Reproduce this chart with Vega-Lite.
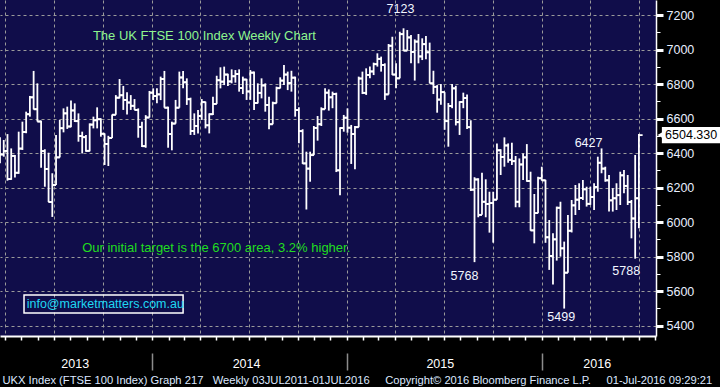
{
"$schema": "https://vega.github.io/schema/vega-lite/v6.json",
"width": 656, "height": 336,
"autosize": {"type": "none"},
"padding": {"left": 0, "top": 0, "right": 64, "bottom": 51},
"background": "#000000",
"config": {"font": "Liberation Sans", "view": {"fill": "#100d4a", "stroke": null}},
"datasets": {"w": [
{"d":"2013-03-22","o":6430,"h":6491,"l":6341,"c":6392},
{"d":"2013-03-29","o":6392,"h":6476,"l":6379,"c":6412},
{"d":"2013-04-05","o":6412,"h":6510,"l":6240,"c":6249},
{"d":"2013-04-12","o":6249,"h":6427,"l":6245,"c":6384},
{"d":"2013-04-19","o":6384,"h":6389,"l":6258,"c":6286},
{"d":"2013-04-26","o":6286,"h":6524,"l":6280,"c":6426},
{"d":"2013-05-03","o":6426,"h":6582,"l":6418,"c":6522},
{"d":"2013-05-10","o":6522,"h":6640,"l":6515,"c":6625},
{"d":"2013-05-17","o":6625,"h":6731,"l":6611,"c":6723},
{"d":"2013-05-24","o":6723,"h":6876,"l":6653,"c":6654},
{"d":"2013-05-31","o":6654,"h":6804,"l":6583,"c":6583},
{"d":"2013-06-07","o":6583,"h":6588,"l":6315,"c":6411},
{"d":"2013-06-14","o":6411,"h":6422,"l":6205,"c":6308},
{"d":"2013-06-21","o":6308,"h":6402,"l":6116,"c":6116},
{"d":"2013-06-28","o":6116,"h":6283,"l":6030,"c":6215},
{"d":"2013-07-05","o":6215,"h":6505,"l":6215,"c":6375},
{"d":"2013-07-12","o":6375,"h":6592,"l":6375,"c":6544},
{"d":"2013-07-19","o":6544,"h":6659,"l":6520,"c":6630},
{"d":"2013-07-26","o":6630,"h":6669,"l":6540,"c":6554},
{"d":"2013-08-02","o":6554,"h":6704,"l":6550,"c":6647},
{"d":"2013-08-09","o":6647,"h":6688,"l":6580,"c":6585},
{"d":"2013-08-16","o":6585,"h":6630,"l":6466,"c":6499},
{"d":"2013-08-23","o":6499,"h":6524,"l":6398,"c":6492},
{"d":"2013-08-30","o":6492,"h":6505,"l":6408,"c":6413},
{"d":"2013-09-06","o":6413,"h":6572,"l":6410,"c":6565},
{"d":"2013-09-13","o":6565,"h":6611,"l":6543,"c":6590},
{"d":"2013-09-20","o":6590,"h":6665,"l":6543,"c":6596},
{"d":"2013-09-27","o":6596,"h":6601,"l":6495,"c":6512},
{"d":"2013-10-04","o":6512,"h":6514,"l":6331,"c":6453},
{"d":"2013-10-11","o":6453,"h":6500,"l":6325,"c":6487},
{"d":"2013-10-18","o":6487,"h":6624,"l":6487,"c":6622},
{"d":"2013-10-25","o":6622,"h":6736,"l":6622,"c":6721},
{"d":"2013-11-01","o":6721,"h":6829,"l":6717,"c":6735},
{"d":"2013-11-08","o":6735,"h":6789,"l":6650,"c":6708},
{"d":"2013-11-15","o":6708,"h":6752,"l":6624,"c":6693},
{"d":"2013-11-22","o":6693,"h":6736,"l":6650,"c":6674},
{"d":"2013-11-29","o":6674,"h":6713,"l":6650,"c":6650},
{"d":"2013-12-06","o":6650,"h":6659,"l":6489,"c":6552},
{"d":"2013-12-13","o":6552,"h":6582,"l":6435,"c":6440},
{"d":"2013-12-20","o":6440,"h":6620,"l":6431,"c":6606},
{"d":"2013-12-27","o":6606,"h":6760,"l":6606,"c":6750},
{"d":"2014-01-03","o":6750,"h":6775,"l":6707,"c":6730},
{"d":"2014-01-10","o":6730,"h":6775,"l":6688,"c":6740},
{"d":"2014-01-17","o":6740,"h":6843,"l":6707,"c":6829},
{"d":"2014-01-24","o":6829,"h":6876,"l":6663,"c":6663},
{"d":"2014-01-31","o":6663,"h":6669,"l":6431,"c":6510},
{"d":"2014-02-07","o":6510,"h":6582,"l":6416,"c":6571},
{"d":"2014-02-14","o":6571,"h":6708,"l":6571,"c":6663},
{"d":"2014-02-21","o":6663,"h":6872,"l":6663,"c":6838},
{"d":"2014-02-28","o":6838,"h":6876,"l":6775,"c":6810},
{"d":"2014-03-07","o":6810,"h":6833,"l":6679,"c":6712},
{"d":"2014-03-14","o":6712,"h":6721,"l":6505,"c":6528},
{"d":"2014-03-21","o":6528,"h":6630,"l":6505,"c":6557},
{"d":"2014-03-28","o":6557,"h":6649,"l":6514,"c":6615},
{"d":"2014-04-04","o":6615,"h":6713,"l":6592,"c":6695},
{"d":"2014-04-11","o":6695,"h":6698,"l":6543,"c":6561},
{"d":"2014-04-18","o":6561,"h":6630,"l":6514,"c":6625},
{"d":"2014-04-25","o":6625,"h":6727,"l":6620,"c":6685},
{"d":"2014-05-02","o":6685,"h":6848,"l":6685,"c":6822},
{"d":"2014-05-09","o":6822,"h":6897,"l":6775,"c":6814},
{"d":"2014-05-16","o":6814,"h":6901,"l":6794,"c":6855},
{"d":"2014-05-23","o":6855,"h":6860,"l":6789,"c":6815},
{"d":"2014-05-30","o":6815,"h":6885,"l":6804,"c":6845},
{"d":"2014-06-06","o":6845,"h":6881,"l":6808,"c":6858},
{"d":"2014-06-13","o":6858,"h":6885,"l":6756,"c":6777},
{"d":"2014-06-20","o":6777,"h":6843,"l":6742,"c":6826},
{"d":"2014-06-27","o":6826,"h":6830,"l":6708,"c":6757},
{"d":"2014-07-04","o":6757,"h":6881,"l":6708,"c":6866},
{"d":"2014-07-11","o":6866,"h":6872,"l":6650,"c":6690},
{"d":"2014-07-18","o":6690,"h":6804,"l":6688,"c":6749},
{"d":"2014-07-25","o":6749,"h":6833,"l":6717,"c":6792},
{"d":"2014-08-01","o":6792,"h":6804,"l":6640,"c":6679},
{"d":"2014-08-08","o":6679,"h":6727,"l":6538,"c":6567},
{"d":"2014-08-15","o":6567,"h":6698,"l":6567,"c":6689},
{"d":"2014-08-22","o":6689,"h":6785,"l":6689,"c":6776},
{"d":"2014-08-29","o":6776,"h":6839,"l":6775,"c":6820},
{"d":"2014-09-05","o":6820,"h":6910,"l":6794,"c":6855},
{"d":"2014-09-12","o":6855,"h":6872,"l":6765,"c":6806},
{"d":"2014-09-19","o":6806,"h":6877,"l":6756,"c":6837},
{"d":"2014-09-26","o":6837,"h":6843,"l":6611,"c":6649},
{"d":"2014-10-03","o":6649,"h":6665,"l":6457,"c":6527},
{"d":"2014-10-10","o":6527,"h":6538,"l":6337,"c":6340},
{"d":"2014-10-17","o":6340,"h":6408,"l":6073,"c":6310},
{"d":"2014-10-24","o":6310,"h":6408,"l":6234,"c":6388},
{"d":"2014-10-31","o":6388,"h":6557,"l":6388,"c":6546},
{"d":"2014-11-07","o":6546,"h":6615,"l":6472,"c":6567},
{"d":"2014-11-14","o":6567,"h":6665,"l":6557,"c":6654},
{"d":"2014-11-21","o":6654,"h":6775,"l":6654,"c":6750},
{"d":"2014-11-28","o":6750,"h":6769,"l":6646,"c":6723},
{"d":"2014-12-05","o":6723,"h":6756,"l":6660,"c":6742},
{"d":"2014-12-12","o":6742,"h":6750,"l":6290,"c":6300},
{"d":"2014-12-19","o":6300,"h":6549,"l":6155,"c":6545},
{"d":"2014-12-26","o":6545,"h":6621,"l":6524,"c":6605},
{"d":"2015-01-02","o":6605,"h":6659,"l":6518,"c":6547},
{"d":"2015-01-09","o":6547,"h":6563,"l":6337,"c":6510},
{"d":"2015-01-16","o":6510,"h":6557,"l":6306,"c":6550},
{"d":"2015-01-23","o":6550,"h":6843,"l":6550,"c":6832},
{"d":"2015-01-30","o":6832,"h":6872,"l":6742,"c":6749},
{"d":"2015-02-06","o":6749,"h":6891,"l":6737,"c":6853},
{"d":"2015-02-13","o":6853,"h":6901,"l":6833,"c":6873},
{"d":"2015-02-20","o":6873,"h":6924,"l":6852,"c":6915},
{"d":"2015-02-27","o":6915,"h":6978,"l":6901,"c":6946},
{"d":"2015-03-06","o":6946,"h":6959,"l":6872,"c":6911},
{"d":"2015-03-13","o":6911,"h":6920,"l":6708,"c":6740},
{"d":"2015-03-20","o":6740,"h":7032,"l":6740,"c":7022},
{"d":"2015-03-27","o":7022,"h":7074,"l":6852,"c":6855},
{"d":"2015-04-03","o":6855,"h":6920,"l":6775,"c":6833},
{"d":"2015-04-10","o":6833,"h":7103,"l":6833,"c":7089},
{"d":"2015-04-17","o":7089,"h":7123,"l":6993,"c":6994},
{"d":"2015-04-24","o":6994,"h":7113,"l":6994,"c":7070},
{"d":"2015-05-01","o":7070,"h":7084,"l":6920,"c":6986},
{"d":"2015-05-08","o":6986,"h":7059,"l":6820,"c":7046},
{"d":"2015-05-15","o":7046,"h":7090,"l":6920,"c":6960},
{"d":"2015-05-22","o":6960,"h":7065,"l":6939,"c":7031},
{"d":"2015-05-29","o":7031,"h":7078,"l":6943,"c":6984},
{"d":"2015-06-05","o":6984,"h":7040,"l":6804,"c":6804},
{"d":"2015-06-12","o":6804,"h":6877,"l":6742,"c":6784},
{"d":"2015-06-19","o":6784,"h":6794,"l":6634,"c":6710},
{"d":"2015-06-26","o":6710,"h":6800,"l":6680,"c":6753},
{"d":"2015-07-03","o":6753,"h":6753,"l":6535,"c":6585},
{"d":"2015-07-10","o":6585,"h":6690,"l":6437,"c":6673},
{"d":"2015-07-17","o":6673,"h":6800,"l":6660,"c":6775},
{"d":"2015-07-24","o":6775,"h":6790,"l":6560,"c":6579},
{"d":"2015-07-31","o":6579,"h":6700,"l":6505,"c":6696},
{"d":"2015-08-07","o":6696,"h":6750,"l":6660,"c":6719},
{"d":"2015-08-14","o":6719,"h":6740,"l":6540,"c":6550},
{"d":"2015-08-21","o":6550,"h":6590,"l":6180,"c":6188},
{"d":"2015-08-28","o":6188,"h":6260,"l":5768,"c":6247},
{"d":"2015-09-04","o":6247,"h":6254,"l":6028,"c":6042},
{"d":"2015-09-11","o":6042,"h":6286,"l":6042,"c":6118},
{"d":"2015-09-18","o":6118,"h":6248,"l":6028,"c":6105},
{"d":"2015-09-25","o":6105,"h":6176,"l":5939,"c":6110},
{"d":"2015-10-02","o":6110,"h":6176,"l":5881,"c":6130},
{"d":"2015-10-09","o":6130,"h":6456,"l":6130,"c":6416},
{"d":"2015-10-16","o":6416,"h":6422,"l":6273,"c":6378},
{"d":"2015-10-23","o":6378,"h":6491,"l":6321,"c":6444},
{"d":"2015-10-30","o":6444,"h":6456,"l":6344,"c":6361},
{"d":"2015-11-06","o":6361,"h":6460,"l":6331,"c":6353},
{"d":"2015-11-13","o":6353,"h":6383,"l":6086,"c":6118},
{"d":"2015-11-20","o":6118,"h":6369,"l":6086,"c":6334},
{"d":"2015-11-27","o":6334,"h":6398,"l":6244,"c":6375},
{"d":"2015-12-04","o":6375,"h":6452,"l":6234,"c":6238},
{"d":"2015-12-11","o":6238,"h":6292,"l":5950,"c":5952},
{"d":"2015-12-18","o":5952,"h":6163,"l":5877,"c":6052},
{"d":"2015-12-25","o":6052,"h":6263,"l":6052,"c":6254},
{"d":"2016-01-01","o":6254,"h":6321,"l":6240,"c":6242},
{"d":"2016-01-08","o":6242,"h":6245,"l":5880,"c":5912},
{"d":"2016-01-15","o":5912,"h":6012,"l":5723,"c":5804},
{"d":"2016-01-22","o":5804,"h":5935,"l":5639,"c":5900},
{"d":"2016-01-29","o":5900,"h":6090,"l":5777,"c":6083},
{"d":"2016-02-05","o":6083,"h":6118,"l":5800,"c":5848},
{"d":"2016-02-12","o":5848,"h":5887,"l":5499,"c":5707},
{"d":"2016-02-19","o":5707,"h":6041,"l":5707,"c":5950},
{"d":"2016-02-26","o":5950,"h":6128,"l":5940,"c":6097},
{"d":"2016-03-04","o":6097,"h":6215,"l":6041,"c":6130},
{"d":"2016-03-11","o":6130,"h":6225,"l":6070,"c":6140},
{"d":"2016-03-18","o":6140,"h":6244,"l":6128,"c":6190},
{"d":"2016-03-25","o":6190,"h":6205,"l":6090,"c":6106},
{"d":"2016-04-01","o":6106,"h":6205,"l":6100,"c":6146},
{"d":"2016-04-08","o":6146,"h":6225,"l":6070,"c":6204},
{"d":"2016-04-15","o":6204,"h":6379,"l":6176,"c":6344},
{"d":"2016-04-22","o":6344,"h":6427,"l":6283,"c":6310},
{"d":"2016-04-29","o":6310,"h":6321,"l":6234,"c":6242},
{"d":"2016-05-06","o":6242,"h":6273,"l":6061,"c":6126},
{"d":"2016-05-13","o":6126,"h":6196,"l":6061,"c":6138},
{"d":"2016-05-20","o":6138,"h":6225,"l":6070,"c":6156},
{"d":"2016-05-27","o":6156,"h":6292,"l":6099,"c":6271},
{"d":"2016-06-03","o":6271,"h":6302,"l":6167,"c":6210},
{"d":"2016-06-10","o":6210,"h":6273,"l":6099,"c":6116},
{"d":"2016-06-17","o":6116,"h":6128,"l":5906,"c":6021},
{"d":"2016-06-24","o":6021,"h":6389,"l":5788,"c":6138},
{"d":"2016-07-01","o":6138,"h":6511,"l":5964,"c":6504}
]},
"resolve": {"axis": {"x": "independent", "y": "independent"}},
"layer": [
{
"data": {"values": [{}]},
"mark": {"type": "text", "text": "The UK FTSE 100 Index Weekly Chart", "align": "left", "baseline": "middle", "fontSize": 13, "color": "#8ef58e"},
"encoding": {
"x": {"datum": {"year": 2013, "month": 9, "date": 12, "utc": true}, "type": "temporal",
"scale": {"type": "utc", "domain": [{"year": 2013, "month": 3, "date": 22, "utc": true}, {"year": 2016, "month": 8, "date": 2, "utc": true}]},
"axis": {"orient": "bottom", "tickCount": {"interval": "month", "step": 3}, "grid": true, "gridColor": "#9a9a9a", "gridDash": [3, 3], "gridWidth": 1, "ticks": false, "labels": false, "domain": false, "title": null}},
"y": {"datum": 7078, "type": "quantitative", "scale": {"domain": [5340, 7287], "nice": false, "zero": false}, "axis": null}
}
},
{
"data": {"name": "w"},
"mark": {"type": "rule", "color": "#ffffff", "strokeWidth": 1.8},
"encoding": {
"x": {"field": "d", "type": "temporal",
"axis": {"orient": "bottom", "tickCount": {"interval": "month", "step": 1}, "labels": false, "grid": false, "ticks": true, "tickColor": "#ffffff", "tickSize": 4, "tickWidth": 1.5, "domain": true, "domainColor": "#ffffff", "domainWidth": 2, "title": null}},
"y": {"field": "l", "type": "quantitative",
"axis": {"orient": "right", "values": [5400, 5600, 5800, 6000, 6200, 6400, 6600, 6800, 7000, 7200], "format": "d", "grid": true, "gridColor": "#9a9a9a", "gridDash": [3, 3], "gridWidth": 1, "tickColor": "#ffffff", "tickSize": 7, "tickWidth": 3, "domain": true, "domainColor": "#ffffff", "domainWidth": 1.5, "labelColor": "#e8efff", "labelFontSize": 12.5, "labelPadding": 3, "labelBaseline": "middle", "labelOverlap": false, "labelBound": false, "labelFlush": false, "title": null}},
"y2": {"field": "h"}
}
},
{
"data": {"name": "w"},
"mark": {"type": "rule", "color": "#ffffff", "strokeWidth": 1.8, "xOffset": -3.7, "x2Offset": 0},
"encoding": {
"x": {"field": "d", "type": "temporal",
"axis": {"orient": "bottom", "offset": 17, "tickCount": {"interval": "year", "step": 1}, "labels": false, "grid": false, "domain": false, "ticks": true, "tickColor": "#8c8c8c", "tickSize": 17, "tickWidth": 1.5, "title": null}},
"x2": {"field": "d"},
"y": {"field": "o", "type": "quantitative",
"axis": {"orient": "right", "values": [5500, 5700, 5900, 6100, 6300, 6500, 6700, 6900, 7100], "ticks": true, "tickColor": "#ffffff", "tickSize": 4, "tickWidth": 1, "labels": false, "domain": false, "grid": false, "title": null}}
}
},
{
"data": {"name": "w"},
"mark": {"type": "rule", "color": "#ffffff", "strokeWidth": 1.8, "xOffset": 0, "x2Offset": 3.7},
"encoding": {
"x": {"field": "d", "type": "temporal",
"axis": {"orient": "bottom", "values": [{"year": 2013, "month": 8, "date": 9, "utc": true}, {"year": 2014, "month": 6, "date": 26, "utc": true}, {"year": 2015, "month": 6, "date": 24, "utc": true}, {"year": 2016, "month": 4, "date": 13, "utc": true}],
"format": "%Y", "ticks": false, "tickSize": 0, "domain": false, "grid": false, "labelColor": "#ffffff", "labelFontSize": 12.5, "labelPadding": 31, "labelBaseline": "alphabetic", "labelOverlap": false, "labelBound": false, "labelFlush": false,
"title": "UKX Index (FTSE 100 Index) Graph 217\u00a0\u00a0\u00a0Weekly 03JUL2011-01JUL2016\u00a0\u00a0\u00a0\u00a0\u00a0Copyright\u00a9 2016 Bloomberg Finance L.P.\u00a0\u00a0\u00a0\u00a0\u00a001-Jul-2016 09:29:21",
"titleFontSize": 11.2, "titleFontWeight": "normal", "titleColor": "#dde8ff", "titleX": 2, "titleY": 47, "titleAlign": "left", "titleBaseline": "alphabetic", "titleAnchor": "start"}},
"x2": {"field": "d"},
"y": {"field": "c", "type": "quantitative", "axis": null}
}
},
{
"data": {"values": [{}]},
"mark": {"type": "text", "text": "Our initial target is the 6700 area, 3.2% higher.", "align": "left", "baseline": "middle", "fontSize": 13, "color": "#20dd20"},
"encoding": {
"x": {"datum": {"year": 2013, "month": 8, "date": 23, "utc": true}, "type": "temporal", "axis": null},
"y": {"datum": 5850, "type": "quantitative", "axis": null}
}
},
{
"data": {"values": [{}]},
"mark": {"type": "rect", "filled": false, "stroke": "#ffffff", "strokeWidth": 1.5},
"encoding": {
"x": {"datum": {"year": 2013, "month": 5, "date": 6, "utc": true}, "type": "temporal", "axis": null},
"x2": {"datum": {"year": 2014, "month": 2, "date": 28, "utc": true}},
"y": {"datum": 5578, "type": "quantitative", "axis": null},
"y2": {"datum": 5473}
}
},
{
"data": {"values": [{}]},
"mark": {"type": "text", "text": "info@marketmatters.com.au", "align": "left", "baseline": "middle", "fontSize": 12.5, "color": "#1fd8f2"},
"encoding": {
"x": {"datum": {"year": 2013, "month": 5, "date": 11, "utc": true}, "type": "temporal", "axis": null},
"y": {"datum": 5526, "type": "quantitative", "axis": null}
}
},
{
"data": {"values": [{}]},
"mark": {"type": "text", "text": "7123", "align": "center", "baseline": "middle", "fontSize": 12.5, "color": "#f2f6ff", "dx": -3, "dy": -19},
"encoding": {
"x": {"datum": {"year": 2015, "month": 4, "date": 17, "utc": true}, "type": "temporal", "axis": null},
"y": {"datum": 7123, "type": "quantitative", "axis": null}
}
},
{
"data": {"values": [{}]},
"mark": {"type": "text", "text": "5768", "align": "center", "baseline": "middle", "fontSize": 12.5, "color": "#f2f6ff", "dx": -10, "dy": 14},
"encoding": {
"x": {"datum": {"year": 2015, "month": 8, "date": 28, "utc": true}, "type": "temporal", "axis": null},
"y": {"datum": 5768, "type": "quantitative", "axis": null}
}
},
{
"data": {"values": [{}]},
"mark": {"type": "text", "text": "6427", "align": "center", "baseline": "middle", "fontSize": 12.5, "color": "#f2f6ff", "dx": -13, "dy": -5},
"encoding": {
"x": {"datum": {"year": 2016, "month": 4, "date": 22, "utc": true}, "type": "temporal", "axis": null},
"y": {"datum": 6427, "type": "quantitative", "axis": null}
}
},
{
"data": {"values": [{}]},
"mark": {"type": "text", "text": "5499", "align": "center", "baseline": "middle", "fontSize": 12.5, "color": "#f2f6ff", "dx": -3, "dy": 8},
"encoding": {
"x": {"datum": {"year": 2016, "month": 2, "date": 12, "utc": true}, "type": "temporal", "axis": null},
"y": {"datum": 5499, "type": "quantitative", "axis": null}
}
},
{
"data": {"values": [{}]},
"mark": {"type": "text", "text": "5788", "align": "center", "baseline": "middle", "fontSize": 12.5, "color": "#f2f6ff", "dx": -9, "dy": 12},
"encoding": {
"x": {"datum": {"year": 2016, "month": 6, "date": 24, "utc": true}, "type": "temporal", "axis": null},
"y": {"datum": 5788, "type": "quantitative", "axis": null}
}
},
{
"data": {"values": [{}]},
"mark": {"type": "rect", "fill": "#ffffff"},
"encoding": {
"x": {"datum": {"year": 2016, "month": 8, "date": 13, "utc": true}, "type": "temporal", "axis": null},
"x2": {"datum": {"year": 2016, "month": 12, "date": 15, "utc": true}},
"y": {"datum": 6551, "type": "quantitative", "axis": null},
"y2": {"datum": 6457}
}
},
{
"data": {"values": [{}]},
"mark": {"type": "point", "shape": "triangle-left", "filled": true, "fill": "#ffffff", "size": 60, "strokeWidth": 0, "opacity": 1},
"encoding": {
"x": {"datum": {"year": 2016, "month": 8, "date": 11, "utc": true}, "type": "temporal", "axis": null},
"y": {"datum": 6504.33, "type": "quantitative", "axis": null}
}
},
{
"data": {"values": [{}]},
"mark": {"type": "text", "text": "6504.330", "align": "left", "baseline": "middle", "fontSize": 12.5, "color": "#000000"},
"encoding": {
"x": {"datum": {"year": 2016, "month": 8, "date": 19, "utc": true}, "type": "temporal", "axis": null},
"y": {"datum": 6504.33, "type": "quantitative", "axis": null}
}
}
]
}
